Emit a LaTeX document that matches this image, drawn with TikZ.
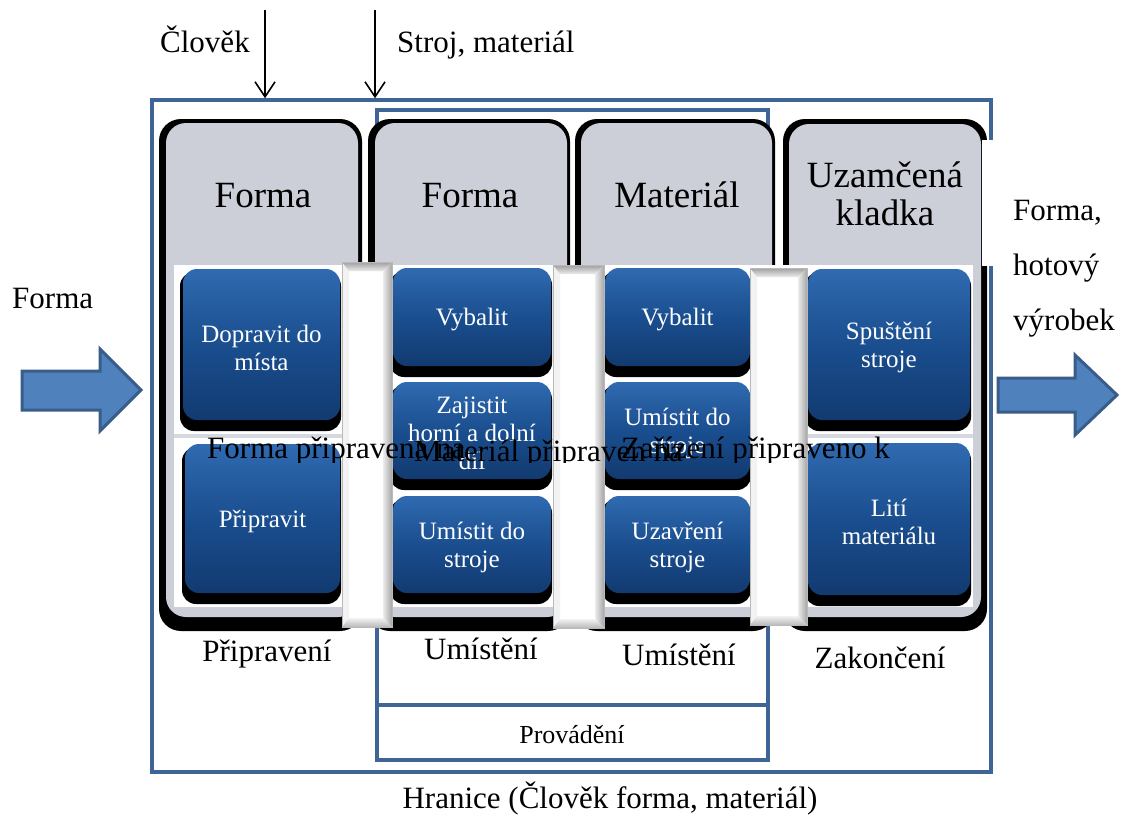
\documentclass[tikz,border=0pt]{standalone}
\usepackage{fontspec}
\setmainfont{Liberation Serif}
\usetikzlibrary{arrows.meta,fit}

\definecolor{frameblue}{RGB}{63,100,150}
\definecolor{colgray}{RGB}{204,206,216}
\definecolor{linegray}{RGB}{214,216,224}
\definecolor{boxtop}{RGB}{48,106,176}
\definecolor{boxmid}{RGB}{26,78,143}
\definecolor{boxbot}{RGB}{18,58,112}
\definecolor{arrfill}{RGB}{79,129,189}
\definecolor{arrdraw}{RGB}{56,93,138}

\newcommand\fsA{\fontsize{31}{36}\selectfont}
\newcommand\fsH{\fontsize{37}{38}\selectfont}
\newcommand\fsB{\fontsize{25}{28}\selectfont}
\newcommand\fsP{\fontsize{26}{30}\selectfont}

\tikzset{
  framebox/.style={draw=frameblue, line width=3.5pt, inner sep=0pt},
  colshape/.style={fill=colgray, rounded corners=20pt, inner sep=0pt},
  colshadow/.style={fill=black, rounded corners=22pt},
  hdr/.style={font=\fsH, align=center, inner sep=0pt, text=black},
  txt/.style={font=\fsA, inner sep=0pt, text=black},
  bluebox/.style={rounded corners=14pt, top color=boxtop, bottom color=boxbot, middle color=boxmid, inner sep=0pt},
  boxtext/.style={font=\fsB, text=white, align=center, inner sep=0pt},
  blockarrow/.style={fill=arrfill, draw=arrdraw, line width=3pt, line join=miter},
  downarrow/.style={line width=1.6pt, -{Straight Barb[length=15pt,width=20pt,line width=1.6pt]}}
}

\newcommand\mybox[6]{%
  \fill[black, rounded corners=14pt] (#2-3,#3+3) rectangle (#4+1,#5+11);
  \node[bluebox, fit={(#2,#3) (#4,#5)}] (#1) {};
  \node[boxtext] (#1t) at ([yshift=-3pt]#1.center) {#6};
}

\newcommand\sepbar[5]{%
  \node[fill=white, fit={(#2,#3) (#4,#5)}, inner sep=0pt] (#1) {};
  \fill[gray!10] (#2,#3) -- (#2+7,#3+9) -- (#2+7,#5-9) -- (#2,#5) -- cycle;
  \shade[top color=gray!75, bottom color=gray!15] (#2,#3) -- (#4,#3) -- (#4-9,#3+9) -- (#2+7,#3+9) -- cycle;
  \shade[left color=gray!15, right color=gray!70] (#4,#3) -- (#4,#5) -- (#4-9,#5-9) -- (#4-9,#3+9) -- cycle;
  \shade[top color=gray!10, bottom color=gray!55] (#2,#5) -- (#4,#5) -- (#4-9,#5-9) -- (#2+7,#5-9) -- cycle;
  \draw[gray!55, line width=0.6pt] (#1.north west) rectangle (#1.south east);
}

\begin{document}
\begin{tikzpicture}[x=1pt,y=-1pt]
\useasboundingbox (0,0) rectangle (1129,820);
\fill[white] (0,0) rectangle (1129,820);

% frames
\node[framebox, fit={(152,100) (991,772)}] (frame) {};
\node[framebox, fit={(377,110) (768,760)}] (prov) {};
\draw[frameblue, line width=3.5pt] (prov.west |- 0,705) -- (prov.east |- 0,705);

% columns
\fill[colshadow] (159,119) rectangle (362,631);
\node[colshape, fit={(166,123) (358,617)}] (col1) {};
\fill[colshadow] (368,119) rectangle (570,631);
\node[colshape, fit={(375,123) (567,617)}] (col2) {};
\fill[colshadow] (575,119) rectangle (775,631);
\node[colshape, fit={(581,123) (772,617)}] (col3) {};
\fill[colshadow] (783,119) rectangle (987,631);
\node[colshape, fit={(789,124) (981,617)}] (col4) {};
\fill[white] (982,140) rectangle (996,266);

% headers
\node[hdr, anchor=base] (hd1) at (263,207) {Forma};
\node[hdr, anchor=base] (hd2) at (470,207) {Forma};
\node[hdr, anchor=base] (hd3) at (677,207) {Materiál};
\node[hdr, anchor=base] (hd4) at (885,187) {Uzamčená};
\node[hdr, anchor=base] (hd4b) at (885,225) {kladka};

% white panel
\fill[white] (174,265) rectangle (973,607);
\fill[linegray] (174,434) rectangle (343,438);
\fill[linegray] (806,434) rectangle (973,438);

% blue boxes
\mybox{b11}{183}{269}{340}{420}{Dopravit do\\místa}
\mybox{b12}{185}{444}{340}{593}{Připravit}
\mybox{b21}{393}{268}{551}{366}{Vybalit}
\mybox{b22}{393}{382}{551}{479}{Zajistit\\horní a dolní\\díl}
\mybox{b23}{393}{496}{551}{593}{Umístit do\\stroje}
\mybox{b31}{605}{268}{750}{366}{Vybalit}
\mybox{b32}{605}{382}{750}{479}{Umístit do\\stroje}
\mybox{b33}{605}{496}{750}{593}{Uzavření\\stroje}
\mybox{b41}{808}{269}{970}{420}{Spuštění\\stroje}
\mybox{b42}{808}{443}{970}{595}{Lití\\materiálu}

% separators
\sepbar{s1}{342}{262}{392}{627}
\sepbar{s2}{553}{265}{604}{628}
\sepbar{s3}{750}{268}{807}{625}

% overlapping labels (clipped)
\begin{scope}
\clip (150,420) rectangle (995,462);
\node[txt, anchor=base west] (t1) at (207,458) {Forma připravena na};
\node[txt, anchor=base west] (t2) at (414,461) {Materiál připraven na};
\node[txt, anchor=base west] (t3) at (621,458) {Zařízení připraveno k};
\end{scope}

% column labels
\node[txt, anchor=base] (l1) at (267,661) {Připravení};
\node[txt, anchor=base] (l2) at (481,659) {Umístění};
\node[txt, anchor=base] (l3) at (679,665) {Umístění};
\node[txt, anchor=base] (l4) at (880,668) {Zakončení};
\node[font=\fsP, inner sep=0pt, anchor=base] (l5) at (572,743) {Provádění};
\node[txt, anchor=base] (hr) at (610,808) {Hranice (Člověk forma, materiál)};

% outside labels
\node[txt, anchor=base west] (clov) at (160,52) {Člověk};
\node[txt, anchor=base west] (stroj) at (397,52) {Stroj, materiál};
\node[txt, anchor=base west] (fin) at (12,308) {Forma};
\node[txt, anchor=base west] (fout) at (1013,220) {Forma,};
\node[txt, anchor=base west] (fout2) at (1013,275) {hotový};
\node[txt, anchor=base west] (fout3) at (1013,330) {výrobek};

% down arrows
\coordinate (a1) at (265,10);
\coordinate (a2) at (375,10);
\draw[downarrow] (a1) -- (a1 |- frame.north);
\draw[downarrow] (a2) -- (a2 |- frame.north);

% block arrows
\draw[blockarrow] (22,371) -- (100,371) -- (100,349) -- (141,390) -- (100,431) -- (100,410) -- (22,410) -- cycle;
\draw[blockarrow] (998,378) -- (1075,378) -- (1075,355) -- (1117,395) -- (1075,435) -- (1075,412) -- (998,412) -- cycle;
\end{tikzpicture}
\end{document}
